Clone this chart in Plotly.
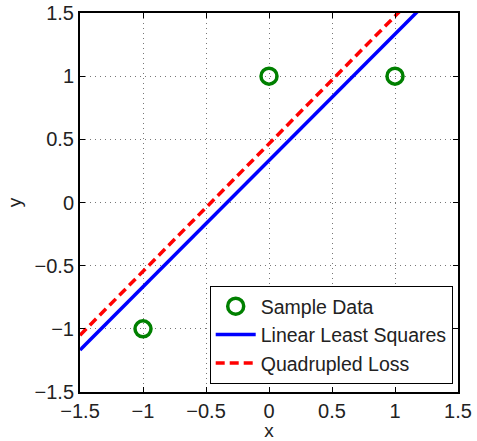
import plotly.graph_objects as go

sample_x = [-1, 0, 1]
sample_y = [-1, 1, 1]
lls_x = [-1.5, 1.5]
lls_y = [-1.167, 1.833]
quad_x = [-1.5, 1.5]
quad_y = [-1.05, 1.98]
tick_vals = [-1.5, -1, -0.5, 0, 0.5, 1, 1.5]
tick_text = ["\u22121.5", "\u22121", "\u22120.5", "0", "0.5", "1", "1.5"]

fig = go.Figure()
fig.add_trace(go.Scatter(x=sample_x, y=sample_y, mode="markers", name="Sample Data",
                         marker=dict(symbol="circle-open", size=16, color="#008000",
                                     line=dict(width=3.5, color="#008000"))))
fig.add_trace(go.Scatter(x=lls_x, y=lls_y, mode="lines", name="Linear Least Squares",
                         line=dict(color="#0000ff", width=3.5)))
fig.add_trace(go.Scatter(x=quad_x, y=quad_y, mode="lines", name="Quadrupled Loss",
                         line=dict(color="#ff0000", width=3.5, dash="9px,5px")))

axis_common = dict(range=[-1.5, 1.5], tickvals=tick_vals, ticktext=tick_text,
                   showgrid=True, gridcolor="#777777", griddash="1px,4px", gridwidth=1,
                   showline=True, linecolor="black", linewidth=2, mirror="ticks",
                   ticks="inside", ticklen=5, tickcolor="black", tickwidth=1,
                   zeroline=False, automargin=False,
                   tickfont=dict(size=20, color="#222222"))

fig.update_xaxes(**axis_common, title=dict(text="x", font=dict(size=19, color="#222222"), standoff=5))
fig.update_yaxes(**axis_common, title=dict(text="y", font=dict(size=19, color="#222222"), standoff=8))

fig.update_layout(
    width=477, height=441,
    margin=dict(l=80, r=19, t=13, b=49),
    paper_bgcolor="white", plot_bgcolor="white",
    font=dict(family="Liberation Sans, Arial, sans-serif", color="#222222"),
    legend=dict(x=0.986, y=0.021, xanchor="right", yanchor="bottom",
                bgcolor="white", bordercolor="black", borderwidth=1,
                font=dict(size=19.5), itemwidth=40, tracegroupgap=0),
    showlegend=True,
)

fig.write_html("out.html", config={"displayModeBar": False},
               post_script="document.body.style.margin='0';document.body.style.overflow='hidden';")
